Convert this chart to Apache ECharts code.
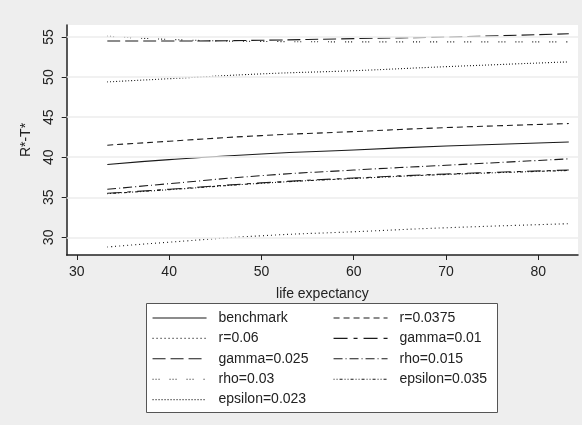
<!DOCTYPE html>
<html>
<head>
<meta charset="utf-8">
<script src="https://cdn.jsdelivr.net/npm/echarts@6/dist/echarts.min.js"></script>
<style>html,body{margin:0;padding:0;background:#eeeeee;}#c{width:582px;height:425px;}</style>
</head>
<body>
<div id="c"></div>
<script>
var lifeExp = [33.3, 40, 50, 60, 70, 83.3];
var benchmark = [39.1, 39.7, 40.4, 40.9, 41.4, 41.9];
var r0375 = [41.5, 42.0, 42.7, 43.2, 43.7, 44.2];
var r06 = [28.8, 29.4, 30.2, 30.7, 31.2, 31.7];
var gamma01 = [35.5, 36.0, 36.8, 37.4, 37.9, 38.4];
var gamma025 = [54.5, 54.5, 54.6, 54.8, 55.0, 55.4];
var rho015 = [36.0, 36.7, 37.7, 38.4, 39.0, 39.8];
var rho03 = [55.1, 54.7, 54.45, 54.4, 54.4, 54.4];
var eps035 = [35.45, 35.95, 36.75, 37.35, 37.85, 38.35];
var eps023 = [49.4, 49.8, 50.4, 50.8, 51.3, 51.9];
var xTicks = [30, 40, 50, 60, 70, 80];
var yTicks = [30, 35, 40, 45, 50, 55];
var names = ['benchmark', 'r=0.0375', 'r=0.06', 'gamma=0.01', 'gamma=0.025', 'rho=0.015', 'rho=0.03', 'epsilon=0.035', 'epsilon=0.023'];
var values = [benchmark, r0375, r06, gamma01, gamma025, rho015, rho03, eps035, eps023];
var dashes = ['solid', [6,4], [1,3], [14,6,4,6], [13,5], [9,3,1,3], [1,2,1,2,1,10], [1,2,1,2,3,2], [1,2]];

var font = 'Liberation Sans, Arial, sans-serif';
var chart = echarts.init(document.getElementById('c'));
function pairs(v){ return lifeExp.map(function(x,i){ return [x, v[i]]; }); }
var series = [{
  type: 'line', data: [], silent: true,
  markLine: {
    silent: true, symbol: 'none', label: {show: false}, animation: false,
    lineStyle: {color: '#ededed', width: 1.5, type: 'solid', opacity: 1},
    emphasis: {disabled: true},
    data: yTicks.map(function(t){ return {yAxis: t}; })
  }
}];
names.forEach(function(n, i){
  series.push({
    name: n, type: 'line', data: pairs(values[i]), symbol: 'none', smooth: true,
    lineStyle: {color: '#1a1a1a', width: 1.1, type: dashes[i]},
    itemStyle: {color: '#1a1a1a'}
  });
});
var col1 = ['benchmark', 'r=0.06', 'gamma=0.025', 'rho=0.03', 'epsilon=0.023'];
var col2 = ['r=0.0375', 'gamma=0.01', 'rho=0.015', 'epsilon=0.035'];
function legend(data, left){
  return {
    data: data, orient: 'vertical', left: left, top: 311, padding: 0,
    itemWidth: 54, itemHeight: 14, itemGap: 6.4, selectedMode: false,
    itemStyle: {opacity: 0, borderWidth: 0},
    lineStyle: {width: 1.1},
    textStyle: {fontFamily: font, fontSize: 14, color: '#222', padding: [0,0,0,7]}
  };
}
chart.setOption({
  backgroundColor: '#eeeeee',
  animation: false,
  grid: {left: 66.7, top: 25, right: 4, bottom: 170, show: true, backgroundColor: '#ffffff', borderWidth: 0},
  graphic: [{
    type: 'rect', left: 146, top: 303, z: -1,
    shape: {width: 351, height: 109},
    style: {fill: '#ffffff', stroke: '#555555', lineWidth: 1}
  }],
  legend: [legend(col1, 152), legend(col2, 333)],
  xAxis: {
    type: 'value', min: 28.9, max: 84.3,
    name: 'life expectancy', nameLocation: 'middle', nameGap: 32,
    nameTextStyle: {fontFamily: font, fontSize: 14, color: '#222'},
    axisLine: {show: true, lineStyle: {color: '#222', width: 1.5}},
    axisTick: {show: true, length: 5, customValues: xTicks, lineStyle: {color: '#222'}},
    axisLabel: {customValues: xTicks, margin: 10, fontFamily: font, fontSize: 14, color: '#222'},
    splitLine: {show: false}
  },
  yAxis: {
    type: 'value', min: 27.8, max: 56.5,
    name: 'R*-T*', nameLocation: 'middle', nameGap: 34, nameRotate: 90,
    nameTextStyle: {fontFamily: font, fontSize: 14, color: '#222'},
    axisLine: {show: true, lineStyle: {color: '#222', width: 1.5}},
    axisTick: {show: true, length: 5, customValues: yTicks, lineStyle: {color: '#222'}},
    axisLabel: {customValues: yTicks, rotate: 90, margin: 11, fontFamily: font, fontSize: 14, color: '#222'},
    splitLine: {show: false}
  },
  series: series
});
</script>
</body>
</html>
